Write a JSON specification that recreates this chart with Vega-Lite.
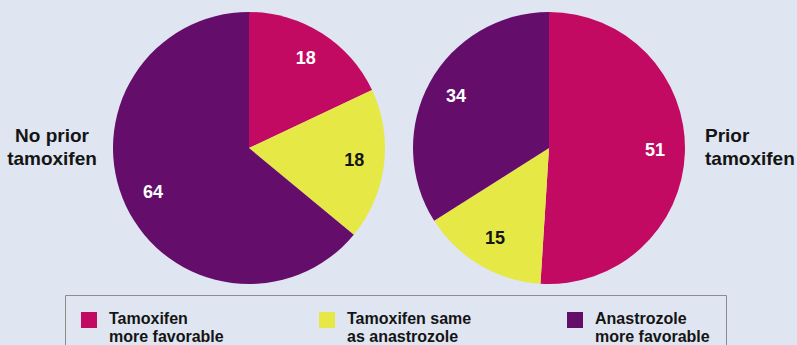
{
  "$schema": "https://vega.github.io/schema/vega-lite/v6.json",
  "width": 797,
  "height": 296,
  "padding": 0,
  "background": "#dfe5f1",
  "config": {"view": {"stroke": null}, "font": "Liberation Sans"},
  "datasets": {
    "slices": [
      {"group": "No prior tamoxifen", "category": "Tamoxifen more favorable", "rank": 1, "value": 18},
      {"group": "No prior tamoxifen", "category": "Tamoxifen same as anastrozole", "rank": 2, "value": 18},
      {"group": "No prior tamoxifen", "category": "Anastrozole more favorable", "rank": 3, "value": 64},
      {"group": "Prior tamoxifen", "category": "Tamoxifen more favorable", "rank": 1, "value": 51},
      {"group": "Prior tamoxifen", "category": "Tamoxifen same as anastrozole", "rank": 2, "value": 15},
      {"group": "Prior tamoxifen", "category": "Anastrozole more favorable", "rank": 3, "value": 34}
    ],
    "groups": [
      {"group": "No prior tamoxifen", "label": "No prior\ntamoxifen"},
      {"group": "Prior tamoxifen", "label": "Prior\ntamoxifen"}
    ]
  },
  "layer": [
    {
      "data": {"name": "slices"},
      "layer": [
        {
          "transform": [{"filter": "datum.group == 'No prior tamoxifen'"}],
          "layer": [
            {
              "mark": {"type": "arc", "outerRadius": 136},
              "encoding": {
                "x": {"field": "group", "type": "nominal", "scale": {"type": "point", "domain": ["No prior tamoxifen", "Prior tamoxifen"], "range": [249, 549], "padding": 0}, "axis": null},
                "theta": {"field": "value", "type": "quantitative", "stack": true, "scale": {"domain": [0, 100]}},
                "color": {
                  "field": "category", "type": "nominal",
                  "scale": {"domain": ["Tamoxifen more favorable", "Tamoxifen same as anastrozole", "Anastrozole more favorable"], "range": ["#c20a62", "#e6e845", "#650d6b"]},
                  "legend": {
                    "title": null, "orient": "none", "legendX": 65, "legendY": 295, "direction": "horizontal", "columns": 3,
                    "symbolType": "M-1,-0.875H1V1.125H-1Z", "symbolSize": 256, "symbolStrokeWidth": 0,
                    "labelFont": "Liberation Sans", "labelFontSize": 16, "labelFontWeight": "bold", "labelColor": "#141414",
                    "labelLineHeight": 20, "labelBaseline": "middle", "labelOffset": 12, "labelLimit": 300,
                    "labelExpr": "datum.label == 'Tamoxifen more favorable' ? ['Tamoxifen','more favorable'] : datum.label == 'Tamoxifen same as anastrozole' ? ['Tamoxifen same','as anastrozole'] : ['Anastrozole','more favorable']",
                    "columnPadding": 95, "padding": 16, "strokeColor": "#8c8c8c"
                  }
                },
                "order": {"field": "rank", "type": "quantitative", "sort": "ascending"}
              }
            },
            {
              "mark": {"type": "text", "radius": 106, "fontSize": 18, "fontWeight": "bold", "baseline": "middle", "align": "center"},
              "encoding": {
                "x": {"field": "group", "type": "nominal", "scale": {"type": "point", "domain": ["No prior tamoxifen", "Prior tamoxifen"], "range": [249, 549], "padding": 0}, "axis": null},
                "theta": {"field": "value", "type": "quantitative", "stack": true, "scale": {"domain": [0, 100]}},
                "detail": {"field": "category"},
                "order": {"field": "rank", "type": "quantitative", "sort": "ascending"},
                "text": {"field": "value", "type": "quantitative"},
                "color": {"condition": {"test": "datum.category == 'Tamoxifen same as anastrozole'", "value": "#141414"}, "value": "#ffffff"}
              }
            }
          ]
        },
        {
          "transform": [{"filter": "datum.group == 'Prior tamoxifen'"}],
          "layer": [
            {
              "mark": {"type": "arc", "outerRadius": 136},
              "encoding": {
                "x": {"field": "group", "type": "nominal", "scale": {"type": "point", "domain": ["No prior tamoxifen", "Prior tamoxifen"], "range": [249, 549], "padding": 0}, "axis": null},
                "theta": {"field": "value", "type": "quantitative", "stack": true, "scale": {"domain": [0, 100]}},
                "color": {"field": "category", "type": "nominal"},
                "order": {"field": "rank", "type": "quantitative", "sort": "ascending"}
              }
            },
            {
              "mark": {"type": "text", "radius": 106, "fontSize": 18, "fontWeight": "bold", "baseline": "middle", "align": "center"},
              "encoding": {
                "x": {"field": "group", "type": "nominal", "scale": {"type": "point", "domain": ["No prior tamoxifen", "Prior tamoxifen"], "range": [249, 549], "padding": 0}, "axis": null},
                "theta": {"field": "value", "type": "quantitative", "stack": true, "scale": {"domain": [0, 100]}},
                "detail": {"field": "category"},
                "order": {"field": "rank", "type": "quantitative", "sort": "ascending"},
                "text": {"field": "value", "type": "quantitative"},
                "color": {"condition": {"test": "datum.category == 'Tamoxifen same as anastrozole'", "value": "#141414"}, "value": "#ffffff"}
              }
            }
          ]
        }
      ]
    },
    {
      "data": {"name": "groups"},
      "layer": [
        {
          "transform": [{"filter": "datum.group == 'No prior tamoxifen'"}],
          "mark": {"type": "text", "align": "center", "baseline": "middle", "dy": -12, "fontSize": 19, "fontWeight": "bold", "lineBreak": "\n", "lineHeight": 23, "color": "#141414"},
          "encoding": {
            "x": {"field": "group", "type": "nominal", "scale": {"type": "point", "domain": ["No prior tamoxifen", "Prior tamoxifen"], "range": [52, 705], "padding": 0}, "axis": null},
            "text": {"field": "label"}
          }
        },
        {
          "transform": [{"filter": "datum.group == 'Prior tamoxifen'"}],
          "mark": {"type": "text", "align": "left", "baseline": "middle", "dy": -12, "fontSize": 19, "fontWeight": "bold", "lineBreak": "\n", "lineHeight": 23, "color": "#141414"},
          "encoding": {
            "x": {"field": "group", "type": "nominal", "scale": {"type": "point", "domain": ["No prior tamoxifen", "Prior tamoxifen"], "range": [52, 705], "padding": 0}, "axis": null},
            "text": {"field": "label"}
          }
        }
      ]
    }
  ],
  "resolve": {"scale": {"x": "independent"}}
}
